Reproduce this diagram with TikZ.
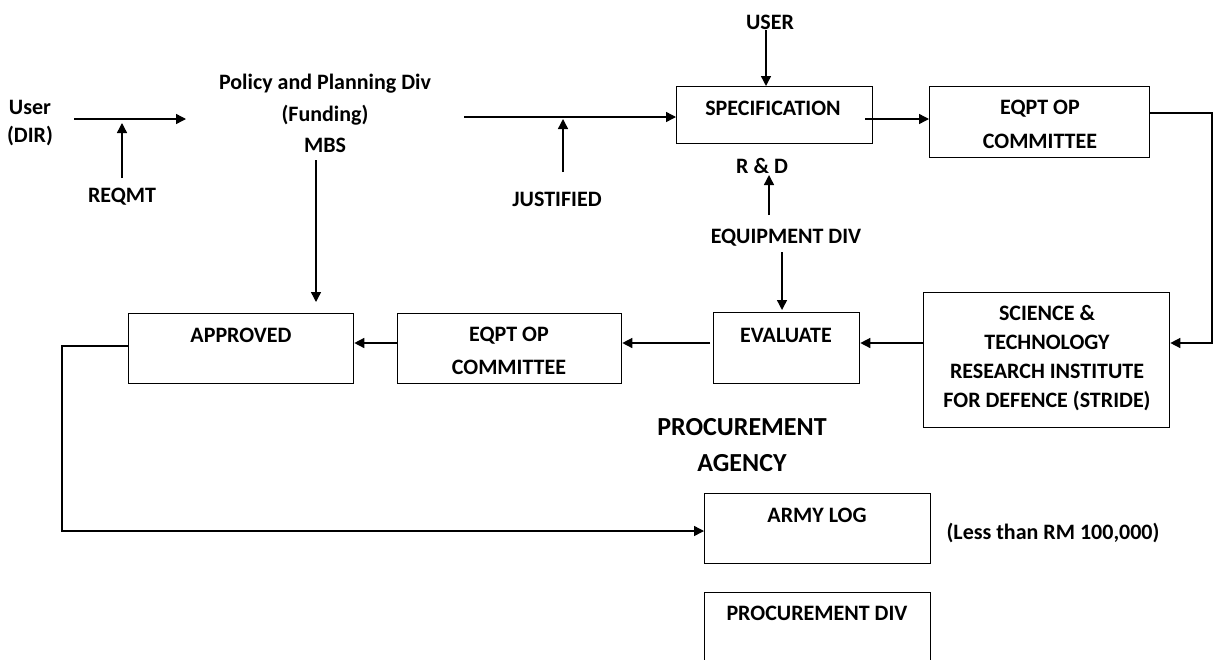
\documentclass[tikz,border=0pt]{standalone}
\usepackage{fontspec}
\setmainfont{Carlito}
\usetikzlibrary{arrows.meta}
\begin{document}
\begin{tikzpicture}[x=1pt,y=-1pt,
  box/.style={draw=black, line width=1.3pt, inner sep=0pt, anchor=north west},
  lbl/.style={font=\fontsize{22}{28}\selectfont\bfseries, inner sep=0pt, align=center, anchor=center},
  big/.style={font=\fontsize{26}{36}\selectfont\bfseries, inner sep=0pt, align=center, anchor=center},
  arr/.style={line width=1.4pt, -{Triangle[length=10pt,width=10pt]}},
  ln/.style={line width=1.4pt}]
\useasboundingbox (0,0) rectangle (1214,659);
% boxes
\node[box, minimum width=196pt, minimum height=57pt] (spec) at (676,86) {};
\node[box, minimum width=220pt, minimum height=71pt] (eqptA) at (929,86) {};
\node[box, minimum width=246pt, minimum height=135pt] (sci) at (923,292) {};
\node[box, minimum width=146pt, minimum height=71pt] (eval) at (713,312) {};
\node[box, minimum width=224pt, minimum height=70pt] (eqptB) at (397,313) {};
\node[box, minimum width=225pt, minimum height=70pt] (appr) at (128,313) {};
\node[box, minimum width=226pt, minimum height=70pt] (army) at (704,493) {};
\node[box, minimum width=226pt, minimum height=90pt] (proc) at (704,592) {};
% texts
\node[lbl, font=\fontsize{22}{28}\selectfont\bfseries] (user) at (30,123) {User\\(DIR)};
\node[lbl, font=\fontsize{22}{31.5}\selectfont\bfseries] (policy) at (325,113.5) {Policy and Planning Div\\(Funding)\\MBS};
\node[lbl] (reqmt) at (122,197) {REQMT};
\node[lbl] (just) at (557,199) {JUSTIFIED};
\node[lbl] (userB) at (770,22) {USER};
\node[lbl] (rd) at (762,166) {R \& D};
\node[lbl] (eqdiv) at (786,238) {EQUIPMENT DIV};
\node[lbl] (specT) at (773,108) {SPECIFICATION};
\node[lbl, font=\fontsize{22}{34}\selectfont\bfseries] (eqptAT) at (1040,124) {EQPT OP\\COMMITTEE};
\node[lbl, font=\fontsize{22}{29}\selectfont\bfseries] (sciT) at (1047,358.5) {SCIENCE \&\\TECHNOLOGY\\RESEARCH INSTITUTE\\FOR DEFENCE (STRIDE)};
\node[lbl] (evalT) at (786,335) {EVALUATE};
\node[lbl, font=\fontsize{22}{33}\selectfont\bfseries] (eqptBT) at (509,350.5) {EQPT OP\\COMMITTEE};
\node[lbl] (apprT) at (241,335) {APPROVED};
\node[big] (agency) at (742,445) {PROCUREMENT\\AGENCY};
\node[lbl] (armyT) at (817,515) {ARMY LOG};
\node[lbl] (less) at (1053,533) {(Less than RM 100,000)};
\node[lbl] (procT) at (817,613) {PROCUREMENT DIV};
% free ends
\coordinate (u1) at (74,119);
\coordinate (u2) at (186,119);
\coordinate (r1) at (122,178);
\coordinate (r2) at (122,123);
\coordinate (m1) at (316,160);
\coordinate (m2) at (316,302);
\coordinate (p1) at (464,117);
\coordinate (j1) at (563,172);
\coordinate (j2) at (563,119);
\coordinate (s1) at (766,30);
\coordinate (s2) at (865,119);
\coordinate (e1) at (1212,113);
\coordinate (e2) at (1212,343);
\coordinate (d1) at (769,215);
\coordinate (d2) at (769,175);
\coordinate (q1) at (782,252);
\coordinate (q2) at (782,310);
\coordinate (v1) at (710,343);
\coordinate (a1) at (62,346);
\coordinate (a2) at (62,531);
% connectors
\draw[arr] (u1) -- (u2);
\draw[arr] (r1) -- (r2);
\draw[arr] (m1) -- (m2);
\draw[arr] (p1) -- (p1 -| spec.west);
\draw[arr] (j1) -- (j2);
\draw[arr] (s1) -- (s1 |- spec.north);
\draw[arr] (s2) -- (s2 -| eqptA.west);
\draw[arr] (e1 -| eqptA.east) -- (e1) -- (e2) -- (e2 -| sci.east);
\draw[arr] (d1) -- (d2);
\draw[arr] (q1) -- (q2);
\draw[arr] (e2 -| sci.west) -- (e2 -| eval.east);
\draw[arr] (v1) -- (v1 -| eqptB.east);
\draw[arr] (v1 -| eqptB.west) -- (v1 -| appr.east);
\draw[arr] (a1 -| appr.west) -- (a1) -- (a2) -- (a2 -| army.west);
\end{tikzpicture}
\end{document}
